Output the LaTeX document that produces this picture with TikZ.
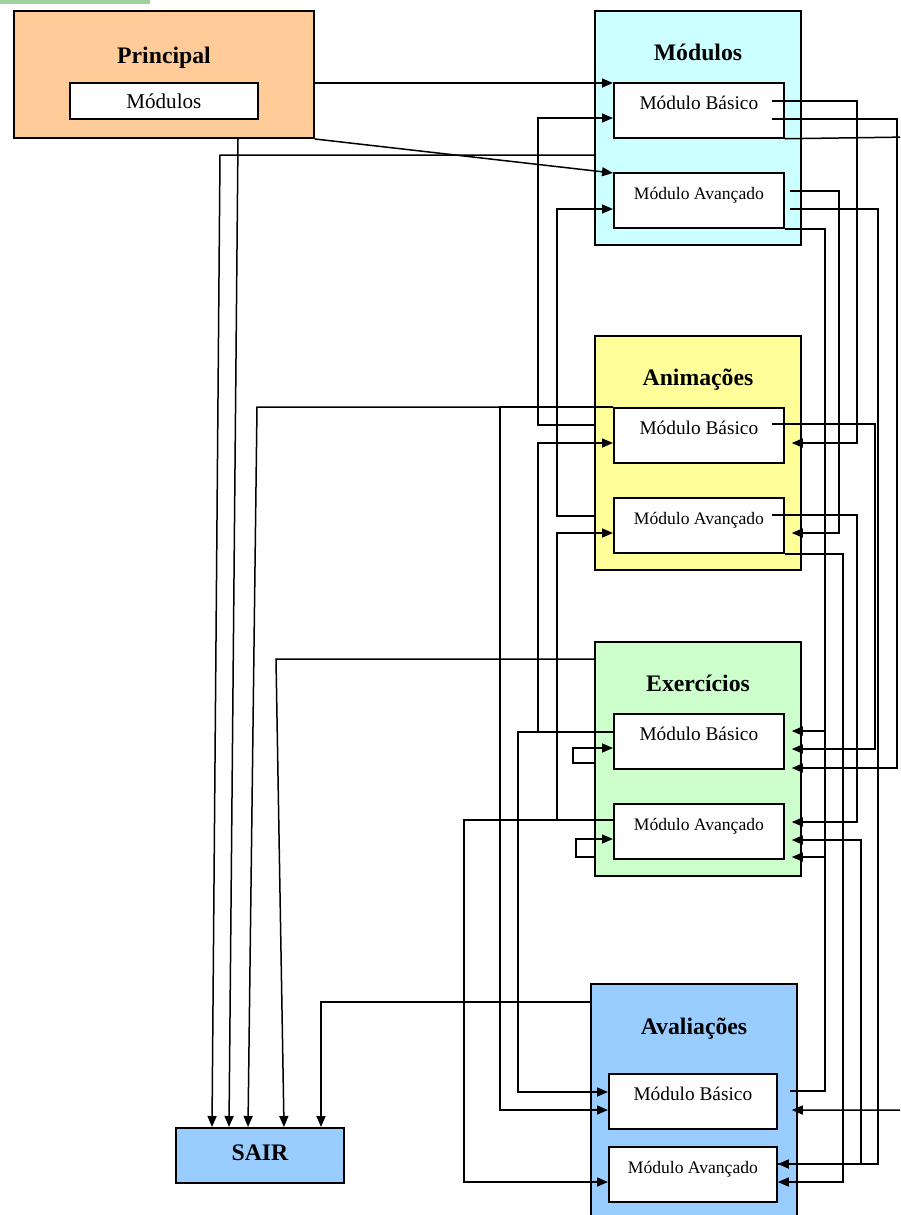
\documentclass[tikz,border=0pt]{standalone}
\usepackage{fontspec}
\setmainfont{Liberation Serif}
\usetikzlibrary{calc, arrows.meta}

\definecolor{stripgreen}{HTML}{A0D2A0}
\definecolor{prinfill}{HTML}{FFCC99}
\definecolor{modfill}{HTML}{CCFFFF}
\definecolor{animfill}{HTML}{FFFF99}
\definecolor{exerfill}{HTML}{CCFFCC}
\definecolor{avalfill}{HTML}{99CCFF}

\begin{document}
\begin{tikzpicture}[x=0.2mm, y=-0.2mm,
    group/.style={draw, line width=0.4mm, anchor=north west, inner sep=0pt,
        minimum width=41.2mm, text height=9.8mm, text depth=37mm,
        font=\bfseries\fontsize{13.5}{16}\selectfont},
    sub/.style={draw, fill=white, line width=0.35mm, anchor=north west, inner sep=0pt,
        minimum width=34mm, text height=5.4mm, text depth=5.6mm,
        font=\fontsize{11}{13}\selectfont},
    subadv/.style={sub, font=\fontsize{10}{12}\selectfont},
    arr/.style={line width=0.3mm, -{Triangle[length=2.2mm, width=1.8mm]}}
]

    \clip (0,0) rectangle (900,1215);
    \fill[stripgreen] (0,0) rectangle (150,4);

    % 1. Boxes
    \node[group, fill=prinfill, minimum width=60mm, text height=10.4mm, text depth=15mm] (prin) at (13,10) {Principal};
    \node[sub, minimum width=37.6mm, text height=5.2mm, text depth=2mm, font=\fontsize{12}{14}\selectfont] (prinM) at (69,82) {Módulos};

    \node[group, fill=modfill] (mod) at (594,10) {Módulos};
    \node[sub] (modB) at (613,82) {Módulo Básico};
    \node[subadv] (modA) at (613,172) {Módulo Avançado};

    \node[group, fill=animfill] (anim) at (594,335) {Animações};
    \node[sub] (animB) at (613,407) {Módulo Básico};
    \node[subadv] (animA) at (613,497) {Módulo Avançado};

    \node[group, fill=exerfill] (exer) at (594,641) {Exercícios};
    \node[sub] (exerB) at (613,713) {Módulo Básico};
    \node[subadv] (exerA) at (613,803) {Módulo Avançado};

    \node[group, fill=avalfill, text height=10mm, text depth=45mm] (aval) at (590,983) {Avaliações};
    \node[sub, minimum width=33.6mm] (avalB) at (608,1073) {Módulo Básico};
    \node[subadv, minimum width=33.6mm] (avalA) at (608,1146) {Módulo Avançado};

    \node[draw, fill=avalfill, line width=0.4mm, anchor=north west, inner sep=0pt,
        minimum width=33.6mm, text height=6.4mm, text depth=4.6mm,
        font=\bfseries\fontsize{13.5}{16}\selectfont] (sair) at (175,1127) {SAIR};

    % 2. Left side connectors
    \draw[arr] (prin.east |- 0,83) -- (modB.west |- 0,83);
    \draw[arr] (prin.south east) -- (modA.west |- 0,173);
    \draw[arr] (prin.south -| 238,0) -- (sair.north -| 229,0);
    \draw[arr] (mod.west |- 0,155) -- (220,155) -- (sair.north -| 212,0);

    \draw[arr] (anim.west |- 0,425) -| (538,118) -- (modB.west |- 0,118);
    \draw[arr] (anim.west |- 0,516) -| (557,209) -- (modA.west |- 0,209);
    \draw[arr] (animB.north west) -- (257,407) -- (sair.north -| 248,0);
    \draw[arr] (animB.north west) -| (500,1110) -- (avalB.west |- 0,1110);

    \draw[arr] (exer.west |- 0,659) -- (276,659) -- (sair.north -| 284,0);
    \draw[arr] (exerB.west |- 0,732) -| (538,443) -- (animB.west |- 0,443);
    \draw[arr] (exerB.west |- 0,732) -| (518,1092) -- (avalB.west |- 0,1092);
    \draw[arr] (exerA.west |- 0,820) -| (557,533) -- (animA.west |- 0,533);
    \draw[arr] (exerA.west |- 0,820) -| (464,1182) -- (avalA.west |- 0,1182);
    \draw[arr] (exer.west |- 0,763) -- (573,763) |- (exerB.west |- 0,748);
    \draw[arr] (exer.west |- 0,857) -- (576,857) |- (exerA.west |- 0,839);

    \draw[arr] (aval.west |- 0,1002) -| (sair.north -| 321,0);

    % 3. Right side connectors
    \draw[arr] ($(modB.east |- 0,101)+(-13,0)$) -| (857,443) -- ($(animB.east |- 0,443)+(7,0)$);
    \draw[arr] ($(modB.east |- 0,119)+(-13,0)$) -| (897,768) -- ($(exerB.east |- 0,768)+(7,0)$);
    \draw[arr] (modB.south east) -- (910,137) -- (910,1110) -- ($(avalB.east |- 0,1110)+(14,0)$);
    \draw[arr] ($(modA.east |- 0,191)+(5,0)$) -| (839,533) -- ($(animA.east |- 0,533)+(7,0)$);
    \draw[arr] ($(modA.east |- 0,209)+(5,0)$) -| (878,1164) -- (avalA.east |- 0,1164);
    \draw[arr] (modA.south east) -| (825,857) -- ($(exerA.east |- 0,857)+(7,0)$);

    \draw[arr] ($(animB.east |- 0,424)+(-13,0)$) -| (875,749) -- ($(exerB.east |- 0,749)+(7,0)$);
    \draw[arr] ($(animA.east |- 0,515)+(-13,0)$) -| (857,822) -- ($(exerA.east |- 0,822)+(7,0)$);
    \draw[arr] (animA.south east) -| (843,1182) -- (avalA.east |- 0,1182);

    \draw[arr] ($(avalB.east |- 0,1091)+(12,0)$) -| (825,731) -- ($(exerB.east |- 0,731)+(7,0)$);
    \draw[arr] (avalA.east |- 0,1164) -| (861,840) -- ($(exerA.east |- 0,840)+(7,0)$);

\end{tikzpicture}
\end{document}
